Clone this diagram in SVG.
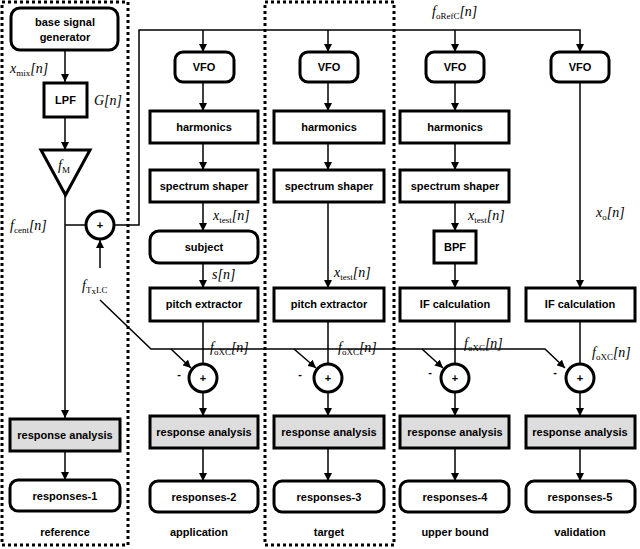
<svg xmlns="http://www.w3.org/2000/svg" width="640" height="549" viewBox="0 0 640 549">
<defs>
<marker id="a" viewBox="0 0 10 10" refX="10" refY="5" markerWidth="8" markerHeight="8" markerUnits="userSpaceOnUse" orient="auto"><path d="M0,0 L10,5 L0,10 z" fill="#000"/></marker>
<style>
.b{fill:#fff;stroke:#000;stroke-width:3}
.g{fill:#ddd;stroke:#000;stroke-width:3}
.t{font-family:"Liberation Sans",Arial,sans-serif;font-weight:bold;font-size:11px;text-anchor:middle}
.m{font-family:"Liberation Serif","Times New Roman",serif;font-style:italic;font-size:14px}
.s{font-size:9px;font-style:normal}
.l{fill:none;stroke:#000;stroke-width:1.5}
.d{fill:none;stroke:#000;stroke-width:3;stroke-dasharray:3,3}
</style>
</defs>
<rect fill="#fff" width="640" height="549"/>
<rect class="d" x="2" y="2" width="126" height="543"/>
<rect class="d" x="265" y="2" width="129" height="543"/>
<g id="connectors">
<path class="l" d="M65,50 V82" marker-end="url(#a)"/>
<path class="l" d="M65,117 V150" marker-end="url(#a)"/>
<path class="l" d="M65,195 V418" marker-end="url(#a)"/>
<path class="l" d="M65,225 H86"/>
<path class="l" d="M100,268 V240" marker-end="url(#a)"/>
<path class="l" d="M114,225 H139 V30 H580 V52" marker-end="url(#a)"/>
<path class="l" d="M203,30 V52" marker-end="url(#a)"/>
<path class="l" d="M328,30 V52" marker-end="url(#a)"/>
<path class="l" d="M455,30 V52" marker-end="url(#a)"/>
<path class="l" d="M65,451 V480" marker-end="url(#a)"/>
<g id="c2"><path class="l" d="M203,82 V111" marker-end="url(#a)"/><path class="l" d="M203,143 V170" marker-end="url(#a)"/><path class="l" d="M203,202 V231" marker-end="url(#a)"/><path class="l" d="M203,263 V288" marker-end="url(#a)"/><path class="l" d="M203,321 V364"/><path class="l" d="M203,392 V416" marker-end="url(#a)"/><path class="l" d="M203,448 V481" marker-end="url(#a)"/></g>
<g id="c3"><path class="l" d="M328,82 V111" marker-end="url(#a)"/><path class="l" d="M328,143 V170" marker-end="url(#a)"/><path class="l" d="M328,202 V288" marker-end="url(#a)"/><path class="l" d="M328,321 V364"/><path class="l" d="M328,392 V416" marker-end="url(#a)"/><path class="l" d="M328,448 V481" marker-end="url(#a)"/></g>
<g id="c4"><path class="l" d="M455,82 V111" marker-end="url(#a)"/><path class="l" d="M455,143 V170" marker-end="url(#a)"/><path class="l" d="M455,202 V231" marker-end="url(#a)"/><path class="l" d="M455,263 V288" marker-end="url(#a)"/><path class="l" d="M455,321 V364"/><path class="l" d="M455,392 V416" marker-end="url(#a)"/><path class="l" d="M455,448 V481" marker-end="url(#a)"/></g>
<g id="c5"><path class="l" d="M580,82 V288" marker-end="url(#a)"/><path class="l" d="M580,321 V364"/><path class="l" d="M580,392 V416" marker-end="url(#a)"/><path class="l" d="M580,448 V481" marker-end="url(#a)"/></g>
<path class="l" d="M100,300 L151,349 H545 L565,368" marker-end="url(#a)"/>
<path class="l" d="M171,349 L191,368" marker-end="url(#a)"/>
<path class="l" d="M294,349 L316,368" marker-end="url(#a)"/>
<path class="l" d="M422,349 L443,368" marker-end="url(#a)"/>
</g>
<g id="gen"><rect class="b" x="11" y="8" width="107" height="42" rx="9"/><text class="t" x="65" y="26">base signal</text><text class="t" x="65" y="41">generator</text></g>
<g id="lpf"><rect class="b" x="44" y="83" width="43" height="34"/><text class="t" x="65.5" y="104">LPF</text></g>
<g id="gain"><path class="b" stroke-width="1.5" d="M41,150 H90 L65.5,195 z"/><text class="m" x="58" y="170">f<tspan class="s" dy="3">M</tspan></text></g>
<g id="sum1"><circle class="b" stroke-width="1.5" cx="100" cy="225" r="14"/><text class="t" x="100" y="229">+</text></g>
<g id="ra1"><rect class="g" x="10" y="419" width="110" height="32"/><text class="t" x="65" y="439" font-weight="normal">response analysis</text></g>
<g id="r1"><rect class="b" x="10" y="480" width="110" height="31" rx="8"/><text class="t" x="65" y="500">responses-1</text></g>
<text class="t" x="65" y="536" font-weight="normal" font-size="10">reference</text>
<g class="labels">
<text class="m" x="10" y="73">x<tspan class="s" dy="3">mix</tspan><tspan dy="-3">[n]</tspan></text>
<text class="m" x="94" y="105">G[n]</text>
<text class="m" x="10" y="230">f<tspan class="s" dy="3">cent</tspan><tspan dy="-3">[n]</tspan></text>
<text class="m" x="82" y="290">f<tspan class="s" dy="3">T</tspan><tspan class="s" font-size="7" dy="1">x</tspan><tspan class="s" dy="-1">LC</tspan></text>
<text class="m" x="432" y="16">f<tspan class="s" dy="3">oRefC</tspan><tspan dy="-3">[n]</tspan></text>
</g>
<g id="col2">
<rect class="b" x="175" y="52" width="59" height="30" rx="8"/><text class="t" x="204" y="71">VFO</text>
<rect class="b" x="150" y="111" width="108" height="32"/><text class="t" x="204" y="131">harmonics</text>
<rect class="b" x="150" y="170" width="108" height="32"/><text class="t" x="204" y="190">spectrum shaper</text>
<rect class="b" x="150" y="231" width="108" height="32" rx="9"/><text class="t" x="204" y="251">subject</text>
<rect class="b" x="150" y="288" width="108" height="33"/><text class="t" x="204" y="308">pitch extractor</text>
<circle class="b" stroke-width="1.5" cx="203" cy="378" r="14"/><text class="t" x="203" y="382">+</text>
<rect class="g" x="150" y="416" width="108" height="32"/><text class="t" x="204" y="436" font-weight="normal">response analysis</text>
<rect class="b" x="150" y="481" width="108" height="31" rx="8"/><text class="t" x="204" y="501">responses-2</text>
<text class="t" x="199" y="536" font-weight="normal" font-size="10">application</text>
<text class="m" x="213" y="220">x<tspan class="s" dy="3">test</tspan><tspan dy="-3">[n]</tspan></text>
<text class="m" x="212" y="279">s[n]</text>
<text class="m" x="210" y="352">f<tspan class="s" dy="3">oXC</tspan><tspan dy="-3">[n]</tspan></text>
<text class="t" x="179" y="378">-</text>
</g>
<g id="col3">
<rect class="b" x="300" y="52" width="58" height="30" rx="8"/><text class="t" x="329" y="71">VFO</text>
<rect class="b" x="274" y="111" width="110" height="32"/><text class="t" x="329" y="131">harmonics</text>
<rect class="b" x="274" y="170" width="110" height="32"/><text class="t" x="329" y="190">spectrum shaper</text>
<rect class="b" x="274" y="288" width="110" height="33"/><text class="t" x="329" y="308">pitch extractor</text>
<circle class="b" stroke-width="1.5" cx="328" cy="378" r="14"/><text class="t" x="328" y="382">+</text>
<rect class="g" x="274" y="416" width="110" height="32"/><text class="t" x="329" y="436" font-weight="normal">response analysis</text>
<rect class="b" x="274" y="481" width="110" height="31" rx="8"/><text class="t" x="329" y="501">responses-3</text>
<text class="t" x="329" y="536" font-weight="normal" font-size="10">target</text>
<text class="m" x="334" y="277">x<tspan class="s" dy="3">test</tspan><tspan dy="-3">[n]</tspan></text>
<text class="m" x="338" y="352">f<tspan class="s" dy="3">oXC</tspan><tspan dy="-3">[n]</tspan></text>
<text class="t" x="300" y="378">-</text>
</g>
<g id="col4">
<rect class="b" x="426" y="52" width="58" height="30" rx="8"/><text class="t" x="455" y="71">VFO</text>
<rect class="b" x="400" y="111" width="109" height="32"/><text class="t" x="455" y="131">harmonics</text>
<rect class="b" x="400" y="170" width="109" height="32"/><text class="t" x="455" y="190">spectrum shaper</text>
<rect class="b" x="434" y="231" width="42" height="32"/><text class="t" x="455" y="251">BPF</text>
<rect class="b" x="400" y="288" width="109" height="33"/><text class="t" x="455" y="308">IF calculation</text>
<circle class="b" stroke-width="1.5" cx="455" cy="378" r="14"/><text class="t" x="455" y="382">+</text>
<rect class="g" x="400" y="416" width="109" height="32"/><text class="t" x="455" y="436" font-weight="normal">response analysis</text>
<rect class="b" x="400" y="481" width="109" height="31" rx="8"/><text class="t" x="455" y="501">responses-4</text>
<text class="t" x="455" y="536" font-weight="normal" font-size="10">upper bound</text>
<text class="m" x="468" y="220">x<tspan class="s" dy="3">test</tspan><tspan dy="-3">[n]</tspan></text>
<text class="m" x="464" y="348">f<tspan class="s" dy="3">oXC</tspan><tspan dy="-3">[n]</tspan></text>
<text class="t" x="430" y="376">-</text>
</g>
<g id="col5">
<rect class="b" x="551" y="52" width="58" height="30" rx="8"/><text class="t" x="580" y="71">VFO</text>
<rect class="b" x="526" y="288" width="109" height="33"/><text class="t" x="580" y="308">IF calculation</text>
<circle class="b" stroke-width="1.5" cx="580" cy="378" r="14"/><text class="t" x="580" y="382">+</text>
<rect class="g" x="526" y="416" width="109" height="32"/><text class="t" x="580" y="436" font-weight="normal">response analysis</text>
<rect class="b" x="526" y="481" width="109" height="31" rx="8"/><text class="t" x="580" y="501">responses-5</text>
<text class="t" x="580" y="536" font-weight="normal" font-size="10">validation</text>
<text class="m" x="596" y="217">x<tspan class="s" dy="3">o</tspan><tspan dy="-3">[n]</tspan></text>
<text class="m" x="592" y="357">f<tspan class="s" dy="3">oXC</tspan><tspan dy="-3">[n]</tspan></text>
<text class="t" x="555" y="376">-</text>
</g>
</svg>
